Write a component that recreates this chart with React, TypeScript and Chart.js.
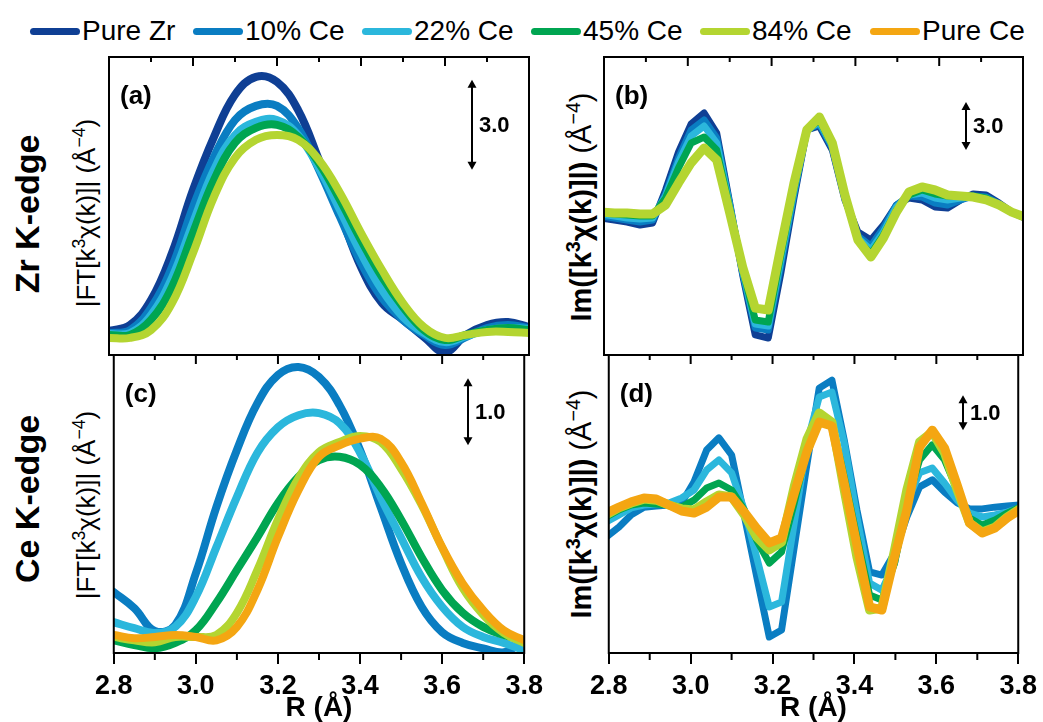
import React, { useEffect, useRef } from 'react';
import { Chart, registerables } from 'chart.js';

Chart.register(...registerables);

// ---------- legend ----------
const seriesNames = ['Pure Zr', '10% Ce', '22% Ce', '45% Ce', '84% Ce', 'Pure Ce'];
const seriesColors = ['#0f3f94', '#0a7dc2', '#2bb7dc', '#00a551', '#b4d531', '#f4a612'];

// ---------- x grids (R, Å) ----------
const rFT = [2.80, 2.85, 2.90, 2.95, 3.00, 3.05, 3.10, 3.15, 3.20, 3.25, 3.30, 3.35, 3.40, 3.45, 3.50, 3.55, 3.60, 3.65, 3.70, 3.75, 3.80];
const rIm = [2.794, 2.825, 2.855, 2.886, 2.916, 2.947, 2.978, 3.008, 3.039, 3.069, 3.100, 3.131, 3.161, 3.192, 3.222, 3.253, 3.284, 3.314, 3.345, 3.375, 3.406, 3.437, 3.467, 3.498, 3.528, 3.559, 3.590, 3.620, 3.651, 3.681, 3.712, 3.743, 3.773, 3.804];
const xTickLabels = ['2.8', '3.0', '3.2', '3.4', '3.6', '3.8'];

// ---------- (a) Zr K-edge |FT| ----------
const zrFT_pureZr = [0.8, 1.0, 1.83, 3.4, 5.5, 7.27, 8.67, 9.27, 9.1, 8.17, 6.5, 4.73, 2.93, 1.73, 1.17, 0.6, 0.1, 0.67, 1.0, 1.1, 0.93];
const zrFT_ce10 = [0.73, 0.83, 1.57, 2.93, 4.93, 6.6, 7.83, 8.3, 8.3, 7.57, 6.17, 4.6, 3.07, 1.9, 1.17, 0.67, 0.33, 0.6, 0.9, 1.0, 0.9];
const zrFT_ce22 = [0.7, 0.73, 1.33, 2.57, 4.4, 6.17, 7.33, 7.77, 7.83, 7.33, 6.23, 4.83, 3.4, 2.17, 1.27, 0.73, 0.43, 0.63, 0.83, 0.9, 0.87];
const zrFT_ce45 = [0.67, 0.67, 1.17, 2.27, 4.07, 5.83, 7.07, 7.57, 7.67, 7.27, 6.4, 5.17, 3.83, 2.6, 1.6, 0.83, 0.5, 0.67, 0.83, 0.9, 0.83];
const zrFT_ce84 = [0.57, 0.57, 0.83, 1.73, 3.4, 5.27, 6.57, 7.17, 7.33, 7.17, 6.5, 5.4, 4.07, 2.83, 1.73, 0.93, 0.57, 0.67, 0.77, 0.77, 0.73];

// ---------- (b) Zr K-edge Im ----------
const zrIm_pureZr = [-0.75, -0.88, -1.0, -1.19, -1.06, 1.0, 3.38, 5.13, 5.81, 4.56, 0.19, -4.31, -8.06, -8.25, -4.19, 0.44, 4.75, 5.0, 3.5, 0.38, -1.63, -2.13, -1.19, 0.06, 0.5, 0.38, -0.06, -0.13, 0.38, 0.75, 0.69, 0.19, -0.38, -0.75];
const zrIm_ce10 = [-0.63, -0.75, -0.88, -1.0, -0.88, 0.75, 3.0, 4.75, 5.38, 4.25, 0.06, -4.19, -7.63, -7.75, -3.69, 0.69, 4.75, 5.13, 3.63, 0.5, -1.88, -2.5, -1.38, 0.06, 0.63, 0.56, 0.19, 0.06, 0.38, 0.63, 0.56, 0.13, -0.38, -0.75];
const zrIm_ce22 = [-0.5, -0.63, -0.75, -0.81, -0.75, 0.63, 2.75, 4.38, 5.0, 3.94, 0.0, -4.06, -7.38, -7.5, -3.38, 0.88, 4.75, 5.25, 3.75, 0.5, -2.0, -2.75, -1.63, -0.06, 0.69, 0.81, 0.5, 0.38, 0.5, 0.56, 0.5, 0.06, -0.38, -0.69];
const zrIm_ce45 = [-0.44, -0.5, -0.56, -0.63, -0.63, 0.5, 2.38, 3.94, 4.31, 3.5, -0.13, -3.94, -7.13, -7.25, -3.06, 1.06, 4.75, 5.38, 3.81, 0.56, -2.13, -3.0, -1.81, -0.25, 0.69, 1.0, 0.75, 0.63, 0.63, 0.63, 0.5, 0.06, -0.38, -0.69];
const zrIm_ce84 = [-0.38, -0.44, -0.44, -0.5, -0.5, 0.06, 1.44, 2.69, 3.63, 2.88, -0.44, -3.81, -6.38, -6.5, -2.56, 1.38, 4.75, 5.56, 3.94, 0.69, -2.13, -3.19, -2.0, -0.38, 0.88, 1.19, 1.0, 0.69, 0.63, 0.56, 0.38, 0.06, -0.38, -0.69];

// ---------- (c) Ce K-edge |FT| ----------
const ceFT_ce10 = [0.91, 0.67, 0.33, 0.42, 1.19, 2.18, 3.03, 3.73, 4.15, 4.27, 4.12, 3.7, 3.03, 2.18, 1.34, 0.69, 0.31, 0.15, 0.07, 0.01, 0.19];
const ceFT_ce22 = [0.46, 0.37, 0.3, 0.39, 0.84, 1.58, 2.33, 2.99, 3.37, 3.55, 3.58, 3.43, 2.99, 2.33, 1.72, 1.13, 0.69, 0.39, 0.24, 0.15, 0.04];
const ceFT_ce45 = [0.19, 0.12, 0.07, 0.15, 0.34, 0.75, 1.24, 1.73, 2.24, 2.63, 2.88, 2.93, 2.81, 2.48, 1.99, 1.43, 0.94, 0.6, 0.39, 0.27, 0.19];
const ceFT_ce84 = [0.24, 0.19, 0.16, 0.24, 0.24, 0.27, 0.6, 1.24, 1.99, 2.61, 3.0, 3.15, 3.24, 3.15, 2.75, 2.21, 1.57, 0.97, 0.57, 0.3, 0.15];
const ceFT_pureCe = [0.27, 0.22, 0.24, 0.27, 0.24, 0.19, 0.39, 0.94, 1.73, 2.43, 2.93, 3.1, 3.2, 3.2, 2.85, 2.24, 1.58, 1.04, 0.64, 0.34, 0.19];

// ---------- (d) Ce K-edge Im ----------
const ceIm_ce10 = [-0.94, -0.66, -0.31, -0.09, -0.06, -0.03, 0.03, 0.63, 1.54, 1.89, 1.4, -0.34, -2.06, -3.8, -3.6, -1.23, 1.14, 3.31, 3.54, 1.83, -0.17, -1.94, -2.03, -1.4, -0.37, 0.49, 0.69, 0.34, 0.03, -0.14, -0.14, -0.09, -0.06, -0.03];
const ceIm_ce22 = [-0.51, -0.31, -0.11, -0.03, 0.0, 0.03, 0.17, 0.4, 0.97, 1.26, 0.89, -0.17, -1.51, -2.94, -2.8, -0.54, 1.74, 3.06, 3.2, 1.74, -0.37, -2.26, -2.46, -1.69, 0.03, 0.89, 1.03, 0.6, 0.11, -0.26, -0.37, -0.31, -0.23, -0.11];
const ceIm_ce45 = [-0.37, -0.17, -0.03, 0.03, 0.0, -0.03, -0.09, 0.11, 0.46, 0.6, 0.4, -0.17, -1.03, -1.69, -1.37, 0.03, 1.54, 2.49, 2.34, 0.77, -0.94, -2.6, -2.74, -1.69, 0.03, 1.26, 1.69, 1.26, 0.4, -0.4, -0.6, -0.46, -0.26, -0.09];
const ceIm_ce84 = [-0.31, -0.11, 0.03, 0.14, 0.11, -0.03, -0.14, -0.17, 0.06, 0.26, 0.2, -0.31, -0.94, -1.31, -1.09, 0.5, 1.85, 2.6, 2.34, 0.4, -1.51, -3.03, -2.97, -1.31, 0.4, 1.77, 2.06, 1.46, 0.4, -0.54, -0.8, -0.66, -0.37, -0.14];
const ceIm_pureCe = [-0.26, -0.09, 0.06, 0.17, 0.14, -0.03, -0.2, -0.26, -0.09, 0.2, 0.2, -0.23, -0.69, -1.11, -0.97, 0.3, 1.5, 2.34, 2.23, 0.6, -1.17, -2.94, -3.03, -1.51, -0.17, 1.63, 2.11, 1.6, 0.54, -0.54, -0.83, -0.69, -0.4, -0.17];

const minorTicks = [2.9, 3.1, 3.3, 3.5, 3.7];
const majorInner = [3.0, 3.2, 3.4, 3.6];

type Series = { idx: number; values: number[] };
type Panel = {
  key: string;
  letter: string;
  x: number[];
  series: Series[];
  tension: number;
  yMin: number;
  yMax: number;
  scaleLabel: string;
  arrowX: number;
  arrowFrom: number;
  arrowSpan: number;
  bottom: boolean;
  canvas: { left: number; top: number; width: number; height: number };
};

const FONT = '"Liberation Sans", Arial, Helvetica, sans-serif';
const TICK_FONT = '"Liberation Sans Narrow", "Arial Narrow", "Liberation Sans", Arial, sans-serif';

const panels: Panel[] = [
  {
    key: 'a', letter: '(a)', x: rFT, tension: 0.4, yMin: 0, yMax: 9.93,
    series: [
      { idx: 0, values: zrFT_pureZr }, { idx: 1, values: zrFT_ce10 }, { idx: 2, values: zrFT_ce22 },
      { idx: 3, values: zrFT_ce45 }, { idx: 4, values: zrFT_ce84 },
    ],
    scaleLabel: '3.0', arrowX: 3.664, arrowFrom: 6.17, arrowSpan: 3.0, bottom: false,
    canvas: { left: 89, top: 42, width: 460, height: 328 },
  },
  {
    key: 'b', letter: '(b)', x: rIm, tension: 0, yMin: -9.3125, yMax: 9.3125,
    series: [
      { idx: 0, values: zrIm_pureZr }, { idx: 1, values: zrIm_ce10 }, { idx: 2, values: zrIm_ce22 },
      { idx: 3, values: zrIm_ce45 }, { idx: 4, values: zrIm_ce84 },
    ],
    scaleLabel: '3.0', arrowX: 3.664, arrowFrom: 3.5, arrowSpan: 3.0, bottom: false,
    canvas: { left: 584, top: 42, width: 459, height: 328 },
  },
  {
    key: 'c', letter: '(c)', x: rFT, tension: 0.4, yMin: 0, yMax: 4.448,
    series: [
      { idx: 1, values: ceFT_ce10 }, { idx: 2, values: ceFT_ce22 }, { idx: 3, values: ceFT_ce45 },
      { idx: 4, values: ceFT_ce84 }, { idx: 5, values: ceFT_pureCe },
    ],
    scaleLabel: '1.0', arrowX: 3.664, arrowFrom: 3.1, arrowSpan: 1.0, bottom: true,
    canvas: { left: 89, top: 340, width: 460, height: 382 },
  },
  {
    key: 'd', letter: '(d)', x: rIm, tension: 0, yMin: -4.257, yMax: 4.257,
    series: [
      { idx: 1, values: ceIm_ce10 }, { idx: 2, values: ceIm_ce22 }, { idx: 3, values: ceIm_ce45 },
      { idx: 4, values: ceIm_ce84 }, { idx: 5, values: ceIm_pureCe },
    ],
    scaleLabel: '1.0', arrowX: 3.664, arrowFrom: 2.11, arrowSpan: 1.0, bottom: true,
    canvas: { left: 584, top: 340, width: 459, height: 382 },
  },
];

function makeDecor(p: Panel) {
  return {
    id: 'decor_' + p.key,
    afterDraw(chart: any) {
      const { ctx, chartArea: a, scales } = chart;
      const xs = scales.x;
      const ys = scales.y;
      ctx.save();
      ctx.strokeStyle = '#000';
      ctx.lineWidth = 2;
      ctx.strokeRect(a.left, a.top, a.right - a.left, a.bottom - a.top);
      // inner ticks along the top edge
      for (const v of minorTicks) {
        const px = xs.getPixelForValue(v);
        ctx.beginPath(); ctx.moveTo(px, a.top); ctx.lineTo(px, a.top + 5); ctx.stroke();
      }
      for (const v of majorInner) {
        const px = xs.getPixelForValue(v);
        ctx.beginPath(); ctx.moveTo(px, a.top); ctx.lineTo(px, a.top + 9); ctx.stroke();
      }
      if (p.bottom) {
        for (const v of minorTicks) {
          const px = xs.getPixelForValue(v);
          ctx.beginPath(); ctx.moveTo(px, a.bottom); ctx.lineTo(px, a.bottom + 7); ctx.stroke();
        }
      }
      // scale arrow
      const ax = Math.round(xs.getPixelForValue(p.arrowX));
      const yb = ys.getPixelForValue(p.arrowFrom);
      const yt = ys.getPixelForValue(p.arrowFrom + p.arrowSpan);
      const hl = 8, hw = 4.5;
      ctx.fillStyle = '#000';
      ctx.beginPath(); ctx.moveTo(ax, yt + hl - 1); ctx.lineTo(ax, yb - hl + 1); ctx.stroke();
      ctx.beginPath(); ctx.moveTo(ax, yt); ctx.lineTo(ax - hw, yt + hl); ctx.lineTo(ax + hw, yt + hl); ctx.closePath(); ctx.fill();
      ctx.beginPath(); ctx.moveTo(ax, yb); ctx.lineTo(ax - hw, yb - hl); ctx.lineTo(ax + hw, yb - hl); ctx.closePath(); ctx.fill();
      ctx.font = 'bold 22px ' + FONT;
      ctx.textAlign = 'left';
      ctx.textBaseline = 'middle';
      ctx.fillText(p.scaleLabel, ax + 7, (yb + yt) / 2 + 1);
      // panel letter
      ctx.font = 'bold 26px ' + FONT;
      ctx.fillText(p.letter, a.left + 11, a.top + 40);
      ctx.restore();
    },
  };
}

function PanelChart({ p }: { p: Panel }) {
  const ref = useRef<HTMLCanvasElement | null>(null);
  useEffect(() => {
    if (!ref.current) return;
    const n = p.series.length;
    const smooth = p.tension > 0;
    const chart = new Chart(ref.current, {
      type: 'line',
      data: {
        datasets: p.series.map((s, i) => ({
          label: seriesNames[s.idx],
          data: p.x.map((x, j) => ({ x, y: s.values[j] })),
          borderColor: seriesColors[s.idx],
          backgroundColor: seriesColors[s.idx],
          borderWidth: smooth ? 8 : (s.idx >= 4 ? 9 : 7),
          pointRadius: 0,
          tension: p.tension,
          borderJoinStyle: 'round',
          borderCapStyle: 'round',
          fill: false,
          order: n - i,
        })),
      },
      options: {
        animation: false,
        responsive: false,
        maintainAspectRatio: false,
        devicePixelRatio: 1,
        events: [],
        layout: {
          autoPadding: false,
          padding: { left: 20, right: 20, top: 15, bottom: p.bottom ? 0 : 15 },
        },
        plugins: { legend: { display: false }, tooltip: { enabled: false } },
        scales: {
          x: {
            type: 'linear',
            min: 2.8,
            max: 3.8,
            display: p.bottom,
            ticks: {
              stepSize: 0.2,
              autoSkip: false,
              maxRotation: 0,
              padding: 6,
              color: '#000',
              font: { family: TICK_FONT, size: 27, weight: 'bold' },
              callback: (v: any) => {
                const s = Number(v).toFixed(1);
                return xTickLabels.includes(s) ? s : '';
              },
            },
            grid: { drawOnChartArea: false, drawTicks: true, tickLength: 11, color: '#000', lineWidth: 2 },
            border: { display: true, color: '#000', width: 2 },
            title: {
              display: true,
              text: 'R (Å)',
              color: '#000',
              font: { family: TICK_FONT, size: 28, weight: 'bold', lineHeight: 1.0 },
              padding: { top: 0, bottom: 0 },
            },
            afterFit: (scale: any) => { if (p.bottom) scale.height = 69; },
          },
          y: { type: 'linear', min: p.yMin, max: p.yMax, display: false },
        },
      } as any,
      plugins: [makeDecor(p)],
    });
    return () => chart.destroy();
  }, [p]);
  const c = p.canvas;
  return (
    <canvas
      ref={ref}
      width={c.width}
      height={c.height}
      style={{ position: 'absolute', left: c.left, top: c.top, width: c.width, height: c.height }}
    />
  );
}

const legendX = [30, 193, 362, 531, 700, 870];

function Rotated({ cx, cy, children, style }: any) {
  return (
    <div
      style={{
        position: 'absolute', left: cx, top: cy, transform: 'translate(-50%, -50%) rotate(-90deg)',
        whiteSpace: 'nowrap', lineHeight: 1, color: '#000', ...style,
      }}
    >
      {children}
    </div>
  );
}

const supStyle: React.CSSProperties = { fontSize: '0.68em', position: 'relative', top: '-0.55em' };

function FTLabel() {
  return (
    <span>|FT[k<span style={supStyle}>3</span>χ(k)]| (Å<span style={supStyle}>−4</span>)</span>
  );
}
function ImLabel() {
  return (
    <span><b>Im([k</b><span style={{ ...supStyle, fontWeight: 'bold' }}>3</span><b>χ(k)]|)</b> (Å<span style={supStyle}>−4</span>)</span>
  );
}

export default function App() {
  return (
    <div style={{ position: 'absolute', left: 0, top: 0, width: 1043, height: 722, background: '#fff', fontFamily: FONT, overflow: 'hidden' }}>
      {seriesNames.map((n, i) => (
        <React.Fragment key={n}>
          <div style={{ position: 'absolute', left: legendX[i], top: 28, width: 50, height: 7, borderRadius: 4, background: seriesColors[i] }} />
          <div style={{ position: 'absolute', left: legendX[i] + 52, top: 15, fontSize: 28, lineHeight: '32px', color: '#000', whiteSpace: 'nowrap' }}>{n}</div>
        </React.Fragment>
      ))}
      <Rotated cx={27} cy={214} style={{ fontSize: 34, fontWeight: 'bold' }}>Zr K-edge</Rotated>
      <Rotated cx={27} cy={499} style={{ fontSize: 34, fontWeight: 'bold' }}>Ce K-edge</Rotated>
      <Rotated cx={86} cy={213} style={{ fontSize: 26 }}><FTLabel /></Rotated>
      <Rotated cx={86} cy={505} style={{ fontSize: 26 }}><FTLabel /></Rotated>
      <Rotated cx={581} cy={207} style={{ fontSize: 29 }}><ImLabel /></Rotated>
      <Rotated cx={581} cy={504} style={{ fontSize: 29 }}><ImLabel /></Rotated>
      {panels.map((p) => <PanelChart key={p.key} p={p} />)}
    </div>
  );
}
